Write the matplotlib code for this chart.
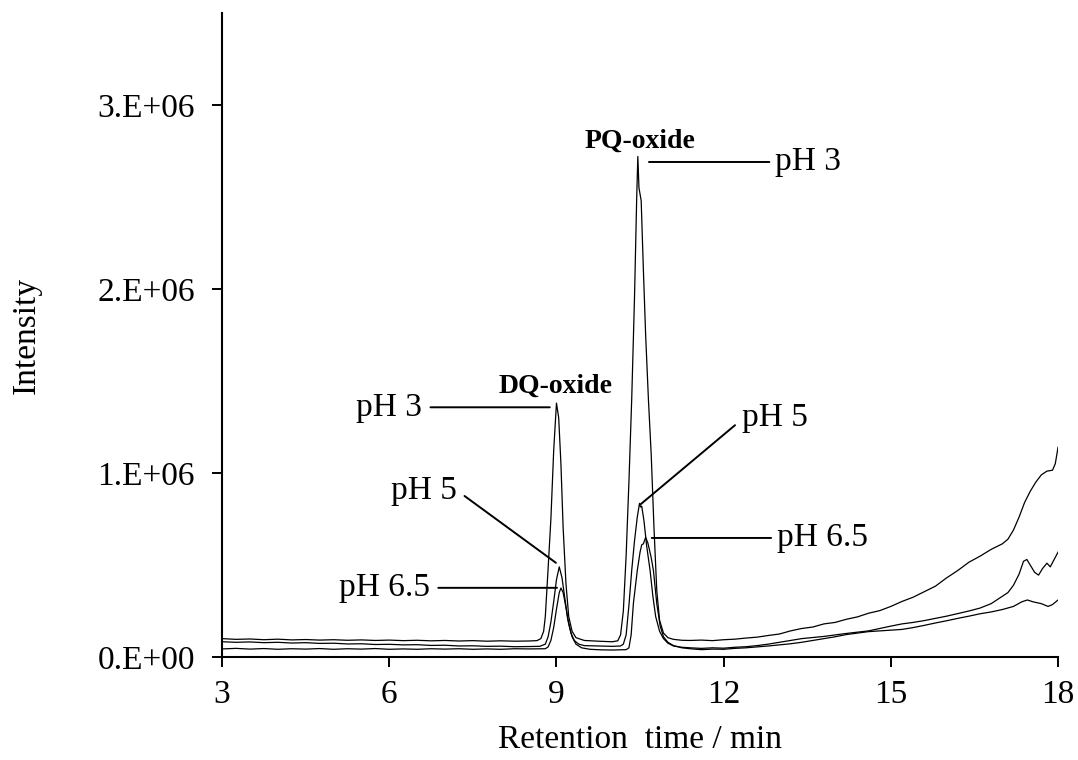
import numpy as np
import matplotlib
matplotlib.use("Agg")
import matplotlib.pyplot as plt
from matplotlib.ticker import FuncFormatter

plt.rcParams['font.family'] = ['Liberation Serif', 'DejaVu Serif']

# retention time (min) / intensity (x 1e6)
t_ph3 = [3.0, 3.25, 3.5, 3.75, 4.0, 4.25, 4.5, 4.75, 5.0, 5.25, 5.5, 5.75, 6.0, 6.25,
         6.5, 6.75, 7.0, 7.25, 7.5, 7.75, 8.0, 8.25, 8.5, 8.65, 8.72, 8.77, 8.8, 8.85,
         8.9, 8.95, 9.0, 9.04, 9.08, 9.12, 9.17, 9.22, 9.28, 9.35, 9.5, 9.75, 10.0,
         10.1, 10.15, 10.2, 10.25, 10.3, 10.35, 10.4, 10.44, 10.46, 10.48, 10.52,
         10.56, 10.6, 10.65, 10.7, 10.75, 10.8, 10.85, 10.92, 11.0, 11.1, 11.25, 11.4,
         11.6, 11.8, 12.0, 12.2, 12.4, 12.6, 12.8, 13.0, 13.2, 13.4, 13.6, 13.8, 14.0,
         14.2, 14.4, 14.6, 14.8, 15.0, 15.2, 15.4, 15.6, 15.8, 16.0, 16.2, 16.4, 16.6,
         16.8, 17.0, 17.1, 17.2, 17.3, 17.4, 17.5, 17.6, 17.7, 17.8, 17.9, 17.95, 18.0]
i_ph3 = [0.100, 0.096, 0.098, 0.094, 0.097, 0.093, 0.095, 0.092, 0.094, 0.091, 0.093,
         0.090, 0.092, 0.089, 0.091, 0.088, 0.090, 0.087, 0.089, 0.086, 0.088, 0.086,
         0.087, 0.089, 0.10, 0.14, 0.22, 0.48, 0.75, 1.12, 1.38, 1.30, 1.05, 0.70,
         0.40, 0.22, 0.14, 0.105, 0.09, 0.086, 0.083, 0.088, 0.12, 0.25, 0.55, 0.95,
         1.40, 1.95, 2.50, 2.72, 2.55, 2.48, 2.10, 1.75, 1.40, 1.10, 0.70, 0.36, 0.20,
         0.13, 0.105, 0.096, 0.091, 0.090, 0.092, 0.089, 0.094, 0.097, 0.103, 0.108,
         0.117, 0.125, 0.142, 0.155, 0.163, 0.180, 0.188, 0.205, 0.218, 0.238, 0.252,
         0.275, 0.302, 0.325, 0.355, 0.385, 0.430, 0.470, 0.515, 0.548, 0.585, 0.615,
         0.640, 0.690, 0.760, 0.840, 0.900, 0.950, 0.990, 1.010, 1.015, 1.050, 1.140]

t_ph5 = [3.0, 3.25, 3.5, 3.75, 4.0, 4.25, 4.5, 4.75, 5.0, 5.25, 5.5, 5.75, 6.0, 6.25,
         6.5, 6.75, 7.0, 7.25, 7.5, 7.75, 8.0, 8.25, 8.5, 8.7, 8.8, 8.85, 8.9, 8.95,
         9.0, 9.05, 9.1, 9.15, 9.2, 9.26, 9.32, 9.4, 9.5, 9.75, 10.0, 10.15, 10.2,
         10.25, 10.3, 10.35, 10.4, 10.45, 10.49, 10.51, 10.53, 10.57, 10.62, 10.68,
         10.73, 10.78, 10.85, 10.92, 11.0, 11.1, 11.25, 11.4, 11.6, 11.8, 12.0, 12.2,
         12.4, 12.6, 12.8, 13.0, 13.2, 13.4, 13.6, 13.8, 14.0, 14.2, 14.4, 14.6, 14.8,
         15.0, 15.2, 15.4, 15.6, 15.8, 16.0, 16.2, 16.4, 16.6, 16.8, 17.0, 17.1, 17.2,
         17.3, 17.38, 17.44, 17.5, 17.58, 17.65, 17.72, 17.8, 17.86, 17.93, 18.0]
i_ph5 = [0.083, 0.080, 0.082, 0.078, 0.080, 0.076, 0.078, 0.074, 0.075, 0.071, 0.072,
         0.068, 0.069, 0.066, 0.067, 0.063, 0.064, 0.060, 0.061, 0.058, 0.059, 0.056,
         0.057, 0.058, 0.07, 0.11, 0.19, 0.30, 0.42, 0.49, 0.43, 0.32, 0.21, 0.13,
         0.09, 0.07, 0.062, 0.060, 0.058, 0.060, 0.070, 0.12, 0.28, 0.47, 0.63, 0.76,
         0.835, 0.815, 0.82, 0.74, 0.60, 0.47, 0.33, 0.22, 0.14, 0.10, 0.075, 0.060,
         0.053, 0.050, 0.047, 0.050, 0.048, 0.053, 0.056, 0.062, 0.070, 0.080, 0.090,
         0.100, 0.106, 0.112, 0.120, 0.128, 0.135, 0.142, 0.155, 0.168, 0.180, 0.188,
         0.198, 0.210, 0.222, 0.236, 0.250, 0.266, 0.290, 0.330, 0.350, 0.390, 0.450,
         0.520, 0.530, 0.500, 0.460, 0.445, 0.480, 0.510, 0.490, 0.530, 0.570]

t_ph65 = [3.0, 3.25, 3.5, 3.75, 4.0, 4.25, 4.5, 4.75, 5.0, 5.25, 5.5, 5.75, 6.0, 6.25,
          6.5, 6.75, 7.0, 7.25, 7.5, 7.75, 8.0, 8.25, 8.5, 8.8, 8.85, 8.9, 8.95, 9.0,
          9.05, 9.08, 9.12, 9.17, 9.22, 9.28, 9.35, 9.45, 9.6, 9.8, 10.0, 10.25, 10.3,
          10.34, 10.38, 10.45, 10.5, 10.53, 10.56, 10.6, 10.64, 10.7, 10.74, 10.8,
          10.86, 10.92, 11.0, 11.1, 11.25, 11.4, 11.6, 11.8, 12.0, 12.2, 12.4, 12.6,
          12.8, 13.0, 13.2, 13.4, 13.6, 13.8, 14.0, 14.2, 14.4, 14.6, 14.8, 15.0, 15.2,
          15.4, 15.6, 15.8, 16.0, 16.2, 16.4, 16.6, 16.8, 17.0, 17.2, 17.35, 17.45,
          17.55, 17.7, 17.82, 17.9, 18.0]
i_ph65 = [0.044, 0.047, 0.043, 0.046, 0.042, 0.045, 0.043, 0.046, 0.042, 0.045, 0.043,
          0.046, 0.042, 0.044, 0.042, 0.045, 0.043, 0.045, 0.042, 0.044, 0.042, 0.045,
          0.044, 0.045, 0.055, 0.09, 0.16, 0.26, 0.35, 0.375, 0.35, 0.27, 0.18, 0.11,
          0.07, 0.05, 0.042, 0.039, 0.038, 0.040, 0.05, 0.12, 0.29, 0.47, 0.57, 0.61,
          0.615, 0.65, 0.62, 0.54, 0.47, 0.29, 0.17, 0.11, 0.08, 0.062, 0.050, 0.045,
          0.040, 0.043, 0.042, 0.047, 0.050, 0.055, 0.060, 0.066, 0.072, 0.080, 0.090,
          0.100, 0.110, 0.122, 0.130, 0.138, 0.142, 0.146, 0.150, 0.160, 0.172, 0.185,
          0.197, 0.210, 0.222, 0.235, 0.245, 0.258, 0.275, 0.300, 0.310, 0.300, 0.290,
          0.275, 0.285, 0.310]

x_ticks = [3, 6, 9, 12, 15, 18]
y_ticks = [0, 1e6, 2e6, 3e6]

fig = plt.figure(figsize=(10.78, 7.6), dpi=100)
ax = fig.add_axes([0.206, 0.1355, 0.7755, 0.8475])

for t, i in [(t_ph3, i_ph3), (t_ph5, i_ph5), (t_ph65, i_ph65)]:
    ax.plot(t, np.array(i) * 1e6, color='black', lw=0.9)

ax.set_xlim(3, 18)
ax.set_ylim(0, 3.5e6)
ax.set_xticks(x_ticks)
ax.set_yticks(y_ticks)
ax.yaxis.set_major_formatter(FuncFormatter(lambda v, p: '%#.0E' % v))
ax.tick_params(direction='out', length=7.5, width=1.4, labelsize=24)
ax.tick_params(axis='y', pad=12)
ax.tick_params(axis='x', pad=9)
for s in ['top', 'right']:
    ax.spines[s].set_visible(False)
for s in ['left', 'bottom']:
    ax.spines[s].set_linewidth(1.5)

ax.set_xlabel('Retention  time / min', fontsize=24)
ax.set_ylabel('Intensity', fontsize=24)
ax.xaxis.set_label_coords(0.5, -0.105)
ax.yaxis.set_label_coords(-0.216, 0.5)

ax.text(8.98, 1.437e6, 'DQ-oxide', fontsize=20, fontweight='bold', ha='center', va='baseline')
ax.text(10.50, 2.77e6, 'PQ-oxide', fontsize=20, fontweight='bold', ha='center', va='baseline')

arrow = dict(arrowstyle='-', lw=1.4, color='black', shrinkB=0)
# left-hand labels (DQ-oxide peaks)
ax.annotate('pH 3', xy=(8.88, 1.357e6), xytext=(6.59, 1.357e6), fontsize=24,
            ha='right', va='center', arrowprops=dict(arrow, relpos=(1, 0.5), shrinkA=4))
ax.annotate('pH 5', xy=(8.99, 0.512e6), xytext=(7.22, 0.904e6), fontsize=24,
            ha='right', va='center', arrowprops=dict(arrow, relpos=(1, 0.5), shrinkA=4))
ax.annotate('pH 6.5', xy=(9.01, 0.376e6), xytext=(6.73, 0.376e6), fontsize=24,
            ha='right', va='center', arrowprops=dict(arrow, relpos=(1, 0.5), shrinkA=4))
# right-hand labels (PQ-oxide peaks)
ax.annotate('pH 3', xy=(10.66, 2.69e6), xytext=(12.92, 2.69e6), fontsize=24,
            ha='left', va='center', arrowprops=dict(arrow, relpos=(0, 0.5), shrinkA=2))
ax.annotate('pH 5', xy=(10.51, 0.83e6), xytext=(12.33, 1.30e6), fontsize=24,
            ha='left', va='center', arrowprops=dict(arrow, relpos=(0, 0.45), shrinkA=4))
ax.annotate('pH 6.5', xy=(10.71, 0.647e6), xytext=(12.95, 0.647e6), fontsize=24,
            ha='left', va='center', arrowprops=dict(arrow, relpos=(0, 0.5), shrinkA=2))

fig.savefig('out.png', dpi=100)
